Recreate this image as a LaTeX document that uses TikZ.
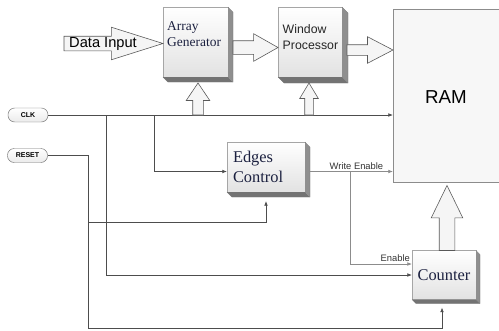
\documentclass[tikz,border=0pt]{standalone}
\usepackage{fontspec}
\setmainfont{Liberation Serif}
\setsansfont{Liberation Sans}
\usepackage{xcolor}
\definecolor{wiregray}{HTML}{4D4D4D}
\definecolor{lightwire}{HTML}{8C8C8C}
\definecolor{facegray}{HTML}{E2E2E2}
\definecolor{sidegray}{HTML}{8F8F8F}
\definecolor{basegray}{HTML}{737373}
\definecolor{textnavy}{HTML}{1C2140}
\usepackage{tikz}
\usetikzlibrary{positioning, arrows.meta, shapes.arrows, calc}

\def\px{0.03cm}
% right and bottom faces of a block
\newcommand\blockdepth[2][5]{%
  \fill[sidegray] (#2.north east) -- ++(#1,#1) -- ($(#2.south east)+(#1,#1)$) -- (#2.south east) -- cycle;
  \fill[basegray] (#2.south west) -- ++(#1,#1) -- ($(#2.south east)+(#1,#1)$) -- (#2.south east) -- cycle;
  \draw[black!55, line width=0.3pt] (#2.north east) -- ++(#1,#1) -- ($(#2.south east)+(#1,#1)$) -- ($(#2.south west)+(#1,#1)$) -- (#2.south west);
}

\tikzset{
  block/.style={draw=black!35, top color=white, bottom color=facegray, inner sep=0pt, outer sep=0pt},
  pill/.style={draw=black!55, rounded corners=0.2cm, top color=white, bottom color=black!8,
    minimum width=40*\px, minimum height=14*\px, inner sep=0pt, font=\sffamily\bfseries\fontsize{6}{7}\selectfont},
  wire/.style={draw=wiregray, line width=0.65pt},
  softwire/.style={draw=lightwire, line width=0.65pt},
  fat/.style n args={4}{single arrow, draw=black!65, fill=black!4, line width=0.5pt, outer sep=0pt,
    inner sep=#1*\px, single arrow head extend=#2*\px, single arrow tip angle=#3, minimum height=#4*\px},
  lbl/.style={font=\sffamily\fontsize{8}{9}\selectfont, text=black!80, inner sep=1.5pt}
}

\begin{document}
\begin{tikzpicture}[x=\px, y=-\px, >={Latex[length=4pt,width=3.2pt]}]
  \useasboundingbox (0,0) rectangle (499,330);
  \clip (0,0) rectangle (499,330);

  % memory
  \node[draw=black!45, fill=black!3, anchor=north west, inner sep=0pt, outer sep=0pt,
        minimum width=115*\px, minimum height=173*\px] (ram) at (393,9) {};
  \node[font=\sffamily\fontsize{16}{18}\selectfont] (ramtext) at (446,97.5) {RAM};

  % blocks
  \node[block, minimum width=65*\px, minimum height=70*\px] (arraygen) at (195.5,42) {};
  \node[block, minimum width=64*\px, minimum height=70*\px] (winproc) at (310,42) {};
  \node[block, minimum width=78*\px, minimum height=50*\px, text width=1.98cm, align=left,
        text=textnavy, font=\fontsize{14}{17}\selectfont] (edges) at (266,167) {Edges\\Control};
  \node[block, minimum width=64*\px, minimum height=49*\px, text=textnavy,
        font=\fontsize{14}{17}\selectfont] (counter) at (444,275) {Counter};
  \blockdepth{arraygen}
  \blockdepth[6]{winproc}
  \blockdepth{edges}
  \blockdepth[4]{counter}
  \node[anchor=north west, inner sep=0pt, align=left, text=textnavy,
        font=\fontsize{11.5}{13.6}\selectfont] (agtext) at (167,21.5) {Array\\Generator};
  \node[anchor=north west, inner sep=0pt, align=left, text=black!85,
        font=\sffamily\fontsize{10.5}{13.6}\selectfont] (wptext) at (282.5,24.5) {Window\\Processor};

  % inputs
  \node[pill] (clk) at (28,115) {CLK};
  \node[pill] (reset) at (27.5,155.5) {RESET};

  % clock and reset wiring
  \coordinate (tapcnt) at (106,115);
  \coordinate (tapedge) at (154,115);
  \coordinate (rstdown) at (88,328);
  \coordinate (rstedge) at (88,222);
  \draw[wire,->] (clk.east) -- (clk.east -| ram.west);
  \draw[wire,->] (tapcnt) |- (counter.west);
  \draw[wire,->] (tapedge) |- ($(edges.west)+(0,4.5)$);
  \draw[wire,->] (reset.east) -| (rstdown) -| ($(counter.south)+(-2,8)$);
  \draw[wire,->] (rstedge) -| ($(edges.south)+(0,9)$);

  % enables
  \coordinate (weout) at ($(edges.east)+(5,4.5)$);
  \coordinate (entap) at ($(weout)+(40,0)$);
  \draw[softwire,->] (weout) -- (weout -| ram.west) node[lbl, above, pos=0.56] {Write Enable};
  \draw[softwire,->] (entap) |- ($(counter.west)+(0,-11)$) node[lbl, above left, pos=1] {Enable};

  % data path
  \node[fat={7}{9}{35}{99}, anchor=tip] (dinarrow) at ($(arraygen.west)+(0,1.5)$) {};
  \node[font=\sffamily\fontsize{12.5}{14}\selectfont, inner sep=0pt] (dintext) at (103,44) {Data Input};
  \node[fat={6.5}{7}{59}{45}, anchor=tail] (agout) at ($(arraygen.east)+(5,5.5)$) {};
  \node[fat={5}{8}{55}{46}, anchor=tail] (wpout) at ($(winproc.east)+(5,8)$) {};
  \node[fat={5}{6.5}{68}{32}, shape border rotate=90, anchor=tail] (agclk) at (198,115) {};
  \node[fat={4}{5}{62}{32}, shape border rotate=90, anchor=tail] (wpclk) at (309,115) {};
  \node[fat={7.5}{8}{52}{65}, shape border rotate=90, anchor=tail] (cntout) at ($(counter.north)+(3,0)$) {};
\end{tikzpicture}
\end{document}
